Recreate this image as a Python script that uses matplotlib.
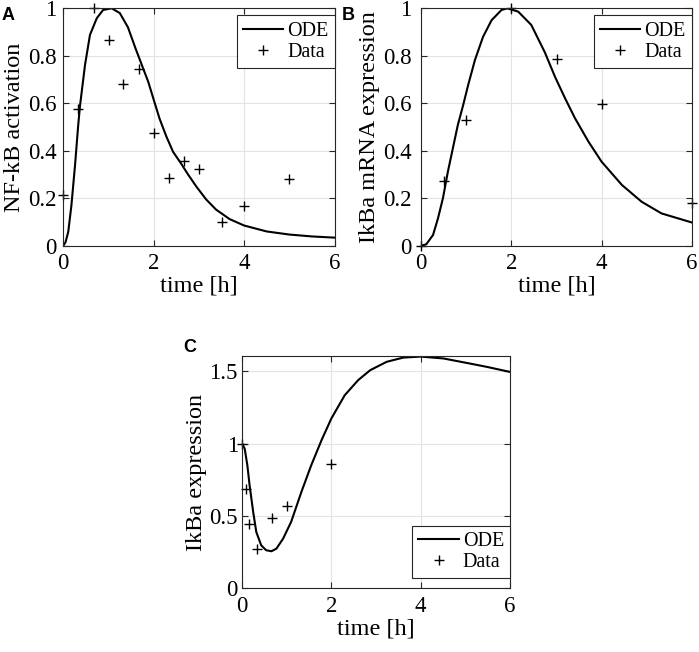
import matplotlib
matplotlib.use("Agg")
import matplotlib.pyplot as plt

plt.rcParams['font.family'] = ['Liberation Serif', 'DejaVu Serif']

# panel A: NF-kB activation
a_ode_t = [0, 0.05, 0.11, 0.18, 0.26, 0.33, 0.37, 0.48, 0.59, 0.74, 0.88, 1.07, 1.25, 1.43,
           1.60, 1.76, 1.88, 2.0, 2.13, 2.28, 2.43, 2.61, 2.76, 2.94, 3.16, 3.38, 3.68, 4.0,
           4.5, 5.0, 5.5, 6.0]
a_ode_v = [0, 0.015, 0.059, 0.171, 0.34, 0.508, 0.59, 0.761, 0.888, 0.958, 0.993, 1.0, 0.98,
           0.92, 0.83, 0.75, 0.69, 0.615, 0.535, 0.46, 0.395, 0.345, 0.30, 0.25, 0.195, 0.152,
           0.112, 0.085, 0.06, 0.047, 0.039, 0.034]
a_data_t = [0, 0.33, 0.67, 1.0, 1.33, 1.67, 2.0, 2.33, 2.67, 3.0, 3.5, 4.0, 5.0]
a_data_v = [0.213, 0.577, 1.0, 0.866, 0.68, 0.746, 0.475, 0.287, 0.357, 0.325, 0.098, 0.168, 0.28]

# panel B: IkBa mRNA
b_ode_t = [0, 0.11, 0.26, 0.37, 0.48, 0.59, 0.70, 0.81, 0.93, 1.04, 1.19, 1.37, 1.56, 1.78,
           1.91, 2.15, 2.44, 2.74, 2.97, 3.19, 3.41, 3.71, 4.0, 4.45, 4.89, 5.33, 6.0]
b_ode_v = [0, 0.006, 0.045, 0.115, 0.2, 0.312, 0.41, 0.508, 0.593, 0.677, 0.782, 0.88, 0.95,
           0.993, 1.0, 0.986, 0.93, 0.815, 0.71, 0.621, 0.537, 0.438, 0.354, 0.256, 0.185,
           0.136, 0.098]
b_data_t = [0, 0.5, 1.0, 2.0, 3.0, 4.0, 6.0]
b_data_v = [0, 0.273, 0.528, 1.0, 0.787, 0.598, 0.178]

# panel C: IkBa protein
c_ode_t = [0, 0.06, 0.12, 0.17, 0.25, 0.32, 0.43, 0.54, 0.66, 0.77, 0.92, 1.10, 1.33, 1.55,
           1.78, 2.0, 2.30, 2.60, 2.87, 3.24, 3.61, 4.0, 4.51, 5.10, 5.48, 6.0]
c_ode_v = [1.0, 0.965, 0.85, 0.712, 0.528, 0.389, 0.297, 0.263, 0.256, 0.274, 0.343, 0.459,
           0.666, 0.85, 1.023, 1.173, 1.334, 1.438, 1.507, 1.565, 1.594, 1.601, 1.588, 1.553,
           1.53, 1.495]
c_data_t = [0, 0.083, 0.167, 0.33, 0.67, 1.0, 2.0]
c_data_v = [1.0, 0.689, 0.447, 0.274, 0.488, 0.569, 0.862]

W, H = 699, 652
fig = plt.figure(figsize=(W / 100, H / 100), dpi=100)


def px_axes(left, right, top, bottom):
    return fig.add_axes([left / W, 1 - bottom / H, (right - left) / W, (bottom - top) / H])


def style(ax, ylabel, yticks, ylim, loc, bbox, ypad):
    ax.set_xlim(0, 6)
    ax.set_ylim(*ylim)
    ax.set_xticks([0, 2, 4, 6])
    ax.set_yticks(yticks)
    ax.set_yticklabels(['%g' % v for v in yticks])
    ax.grid(True, color='#e3e3e3', lw=0.8)
    ax.set_axisbelow(True)
    for s in ax.spines.values():
        s.set_color('#262626')
        s.set_linewidth(0.8)
    ax.tick_params(direction='in', top=True, right=True, labelsize=16.5, length=4,
                   color='#262626')
    ax.tick_params(axis='x', pad=5.5)
    ax.tick_params(axis='y', pad=ypad)
    ax.set_xlabel('time [h]', fontsize=17.5, labelpad=1)
    ax.set_ylabel(ylabel, fontsize=17.5, labelpad=2)
    leg = ax.legend(loc=loc, bbox_to_anchor=bbox, fontsize=14.5, handlelength=2.0,
                    handletextpad=0.2, borderpad=0.3, labelspacing=0.1,
                    fancybox=False, framealpha=1, borderaxespad=0)
    leg.get_frame().set_edgecolor('#262626')
    leg.get_frame().set_linewidth(0.8)


axA = px_axes(63.3, 334.5, 8.3, 245.7)
axA.plot(a_ode_t, a_ode_v, color='black', lw=1.5, label='ODE')
axA.plot(a_data_t, a_data_v, '+', color='black', ms=7, mew=1.0, label='Data', clip_on=False)
style(axA, 'NF-kB activation', [0, 0.2, 0.4, 0.6, 0.8, 1], (0, 1), 'upper right',
      (1.0, 0.97), 5)

axB = px_axes(421.3, 691.7, 8.3, 245.7)
axB.plot(b_ode_t, b_ode_v, color='black', lw=1.5, label='ODE')
axB.plot(b_data_t, b_data_v, '+', color='black', ms=7, mew=1.0, label='Data', clip_on=False)
style(axB, 'IkBa mRNA expression', [0, 0.2, 0.4, 0.6, 0.8, 1], (0, 1), 'upper right',
      (1.0, 0.97), 7)

axC = px_axes(242, 510, 356, 588.3)
axC.plot(c_ode_t, c_ode_v, color='black', lw=1.5, label='ODE')
axC.plot(c_data_t, c_data_v, '+', color='black', ms=7, mew=1.0, label='Data', clip_on=False)
style(axC, 'IkBa expression', [0, 0.5, 1, 1.5], (0, 1.605), 'lower right', (1.0, 0.044), 3)

for txt, x, y in [('A', 2, 20), ('B', 342, 20), ('C', 183, 352)]:
    fig.text(x / W, 1 - y / H, txt, fontsize=13, fontweight='bold',
             family='Liberation Sans', ha='left', va='baseline')

fig.savefig('out.png', dpi=100)
